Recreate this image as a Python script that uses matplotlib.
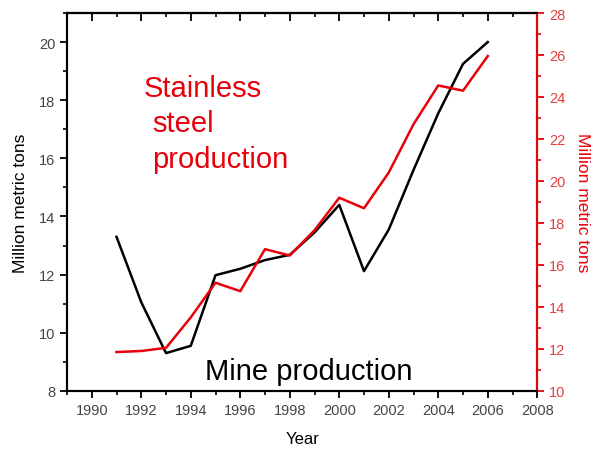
import matplotlib
matplotlib.use("Agg")
import matplotlib.pyplot as plt
from matplotlib.ticker import MultipleLocator

plt.rcParams['font.family'] = ['Liberation Sans', 'DejaVu Sans']

# data
years = [1991, 1992, 1993, 1994, 1995, 1996, 1997, 1998, 1999, 2000,
         2001, 2002, 2003, 2004, 2005, 2006]
mine = [13.3, 11.05, 9.3, 9.55, 11.98, 12.2, 12.5, 12.68, 13.45, 14.4,
        12.12, 13.55, 15.6, 17.55, 19.25, 20.0]
steel = [11.85, 11.9, 12.05, 13.5, 15.15, 14.75, 16.75, 16.45, 17.65, 19.2,
         18.7, 20.4, 22.7, 24.55, 24.3, 25.95]

red = '#e8000b'
red_lbl = '#e24040'
gray = '#454545'

fig = plt.figure(figsize=(5.93, 4.52), dpi=100)
ax = fig.add_axes([0.113, 0.133, 0.793, 0.836])
ax2 = ax.twinx()

ax.plot(years, mine, color='black', lw=1.8, zorder=3)
ax2.plot(years, steel, color=red, lw=1.8)

ax.set_xlim(1989, 2008)
ax.set_ylim(8, 21)
ax2.set_ylim(10, 28)

ax.xaxis.set_major_locator(MultipleLocator(2))
ax.xaxis.set_minor_locator(MultipleLocator(1))
ax.yaxis.set_major_locator(MultipleLocator(2))
ax.yaxis.set_minor_locator(MultipleLocator(1))
ax2.yaxis.set_major_locator(MultipleLocator(2))
ax2.yaxis.set_minor_locator(MultipleLocator(1))

for s in ax.spines.values():
    s.set_linewidth(1.5)
for s in ax2.spines.values():
    s.set_linewidth(1.5)
ax2.spines['right'].set_color(red)

ax.tick_params(axis='both', which='major', length=5, width=1.3, colors='black',
               labelcolor=gray, labelsize=10.5, direction='out')
ax.tick_params(axis='both', which='minor', length=3, width=1.2, direction='out')
ax2.tick_params(axis='y', which='major', length=5, width=1.3, colors=red,
                labelcolor=red_lbl, labelsize=10.5, direction='out')
ax2.tick_params(axis='y', which='minor', length=3, width=1.2, colors=red, direction='out')

top = ax.secondary_xaxis('top')
top.xaxis.set_major_locator(MultipleLocator(2))
top.xaxis.set_minor_locator(MultipleLocator(1))
top.tick_params(which='major', direction='in', length=6, width=1.3, labeltop=False)
top.tick_params(which='minor', direction='in', length=3, width=1.2)
top.spines['top'].set_linewidth(1.5)

ax.set_xlabel('Year', fontsize=12, labelpad=10)
ax.set_ylabel('Million metric tons', fontsize=12.5, labelpad=8)
ax2.set_ylabel('Million metric tons', fontsize=12.5, color=red, rotation=270, labelpad=18)

ax.text(0.164, 0.780, 'Stainless', color=red, fontsize=21, transform=ax.transAxes, va='baseline')
ax.text(0.181, 0.688, 'steel', color=red, fontsize=21, transform=ax.transAxes, va='baseline')
ax.text(0.181, 0.593, 'production', color=red, fontsize=21, transform=ax.transAxes, va='baseline')
ax.text(0.294, 0.032, 'Mine production', color='black', fontsize=21, transform=ax.transAxes, va='baseline')

fig.savefig('out.png', dpi=100)
